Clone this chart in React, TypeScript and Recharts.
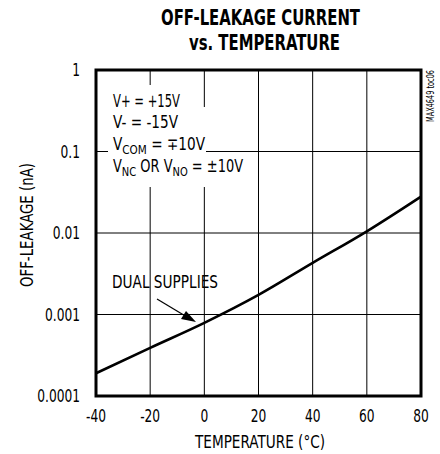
import React from "react";
import {
  LineChart,
  Line,
  XAxis,
  YAxis,
  CartesianGrid,
  ReferenceArea,
  Customized,
} from "recharts";

const temperatures = [-40, -20, 0, 20, 40, 60, 80];
const leakage = [0.00019, 0.00039, 0.00079, 0.00174, 0.0043, 0.0105, 0.028];
const xTicks = [-40, -20, 0, 20, 40, 60, 80];
const yTicks = [0.0001, 0.001, 0.01, 0.1, 1];
const yTickLabels = ["0.0001", "0.001", "0.01", "0.1", "1"];

const data = temperatures.map((t, i) => ({ t, v: leakage[i] }));

const FONT = "'DejaVu Sans Condensed', 'DejaVu Sans', sans-serif";
const cond = { fontStretch: "condensed" as const };
const ADJ = "spacingAndGlyphs";

const Annotations = () => (
  <g fontFamily={FONT} fill="#000" style={cond}>
    <rect x={108} y={85} width={92} height={22} fill="#fff" />
    <rect x={108} y={107} width={98} height={80} fill="#fff" />
    <rect x={206} y={153} width={46} height={34} fill="#fff" />
    <text x={113} y={107} fontSize={17} textLength={67} lengthAdjust={ADJ}>V+ = +15V</text>
    <text x={113} y={128} fontSize={17} textLength={65} lengthAdjust={ADJ}>V- = -15V</text>
    <text x={113} y={150} fontSize={17} textLength={92} lengthAdjust={ADJ}>
      V<tspan fontSize={13} dy={4}>COM</tspan>
      <tspan dy={-4}> = ∓10V</tspan>
    </text>
    <text x={113} y={172} fontSize={17} textLength={130} lengthAdjust={ADJ}>
      V<tspan fontSize={13} dy={4}>NC</tspan>
      <tspan dy={-4}> OR V</tspan>
      <tspan fontSize={13} dy={4}>NO</tspan>
      <tspan dy={-4}> = ±10V</tspan>
    </text>
    <text x={112} y={288} fontSize={17} textLength={106} lengthAdjust={ADJ}>DUAL SUPPLIES</text>
    <line x1={157} y1={299} x2={187} y2={317} stroke="#000" strokeWidth={1.2} />
    <polygon points="196,322 181,319 186,311" fill="#000" />
    <text x={161} y={25} fontSize={21} fontWeight="bold" textLength={199} lengthAdjust={ADJ}>OFF-LEAKAGE CURRENT</text>
    <text x={189} y={50} fontSize={21} fontWeight="bold" textLength={151} lengthAdjust={ADJ}>vs. TEMPERATURE</text>
    <text x={195} y={448} fontSize={17} textLength={130} lengthAdjust={ADJ}>TEMPERATURE (°C)</text>
    <text x={33} y={287} fontSize={17} textLength={124} lengthAdjust={ADJ} transform="rotate(-90 33 287)">OFF-LEAKAGE (nA)</text>
    <text x={434} y={122} fontSize={10} textLength={52} lengthAdjust={ADJ} transform="rotate(-90 434 122)">MAX4649 toc06</text>
  </g>
);

const XTick = (props: any) => {
  const { x, y, payload } = props;
  return (
    <g transform={`translate(${x},${y + 10})`}>
      <text
        transform="scale(0.8,1)"
        textAnchor="middle"
        fontSize={17}
        fontFamily={FONT}
        style={cond}
        fill="#000"
      >
        {String(payload.value)}
      </text>
    </g>
  );
};

const YTick = (props: any) => {
  const { x, y, payload } = props;
  const idx = yTicks.indexOf(payload.value);
  const label = idx >= 0 ? yTickLabels[idx] : String(payload.value);
  return (
    <g transform={`translate(${x},${y + 6})`}>
      <text
        transform="scale(0.8,1)"
        textAnchor="end"
        fontSize={17}
        fontFamily={FONT}
        style={cond}
        fill="#000"
      >
        {label}
      </text>
    </g>
  );
};

export default function App() {
  return (
    <div style={{ position: "absolute", left: 0, top: 0, width: 440, height: 454, background: "#fff" }}>
      <LineChart
        width={440}
        height={454}
        data={data}
        margin={{ top: 70, right: 19, bottom: 28, left: 36 }}
      >
        <CartesianGrid stroke="#000" strokeWidth={1} horizontal vertical />
        <XAxis
          dataKey="t"
          type="number"
          domain={[-40, 80]}
          ticks={xTicks}
          height={30}
          tickLine={false}
          axisLine={false}
          tickMargin={10}
          tick={<XTick />}
        />
        <YAxis
          dataKey="v"
          type="number"
          scale="log"
          domain={[0.0001, 1]}
          ticks={yTicks}
          allowDataOverflow
          width={60}
          tickLine={false}
          axisLine={false}
          tickMargin={10}
          tick={<YTick />}
        />
        <Customized component={Annotations} />
        <Line
          type="monotone"
          dataKey="v"
          stroke="#000"
          strokeWidth={2.6}
          dot={false}
          isAnimationActive={false}
        />
        <ReferenceArea
          x1={-40}
          x2={80}
          y1={0.0001}
          y2={1}
          fill="none"
          stroke="#000"
          strokeWidth={3}
          ifOverflow="visible"
        />
      </LineChart>
    </div>
  );
}
